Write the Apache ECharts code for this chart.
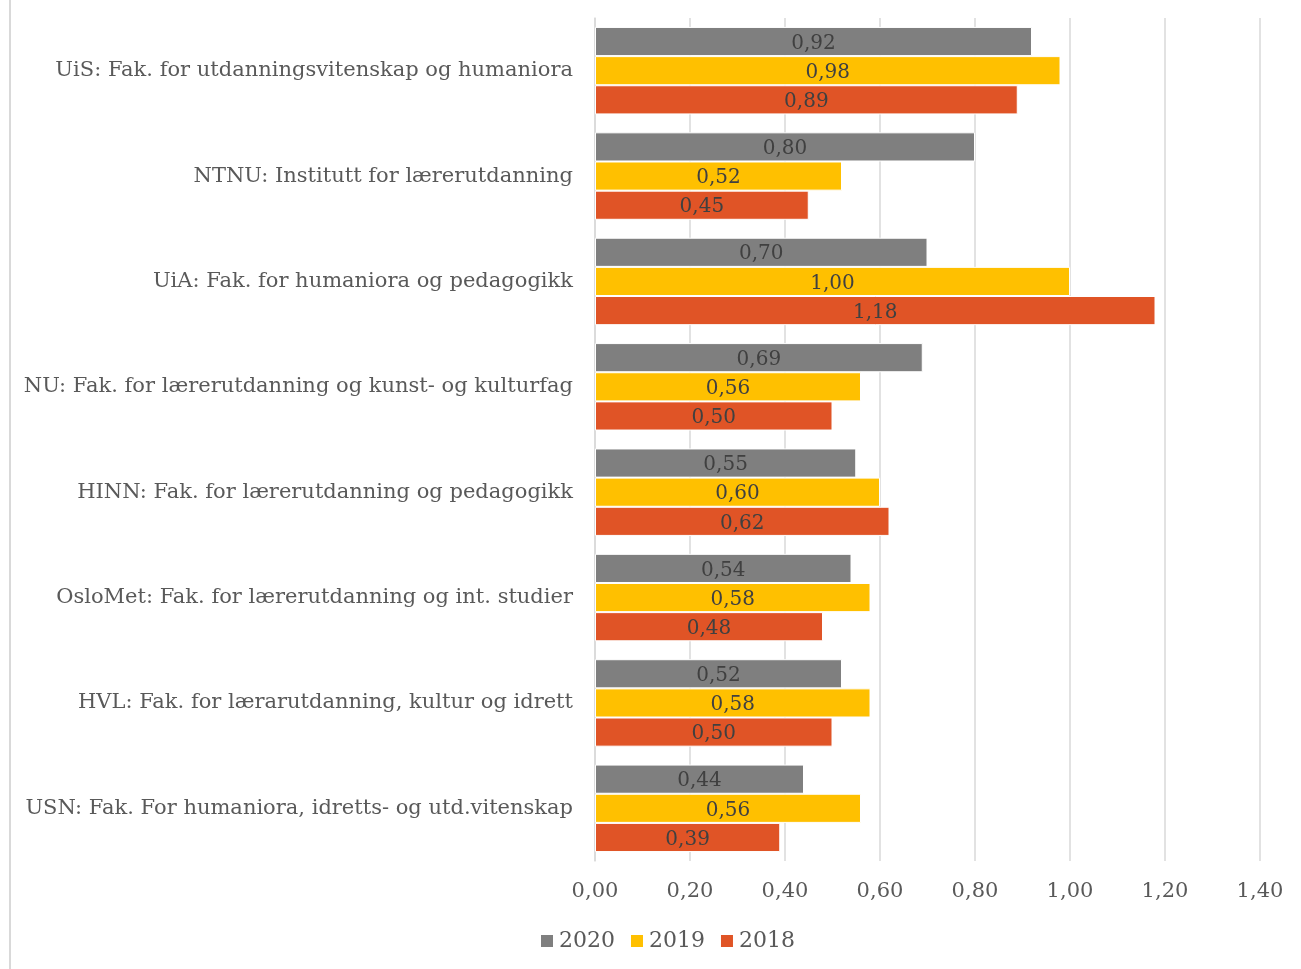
<!DOCTYPE html>
<html><head><meta charset="utf-8">
<script src="https://cdn.jsdelivr.net/npm/echarts@6/dist/echarts.min.js"></script>
<style>html,body{margin:0;padding:0;background:#fff}#c{width:1301px;height:969px}</style>
</head><body><div id="c"></div>
<script>
const categories = [
  "UiS: Fak. for utdanningsvitenskap og humaniora",
  "NTNU: Institutt for lærerutdanning",
  "UiA: Fak. for humaniora og pedagogikk",
  "NU: Fak. for lærerutdanning og kunst- og kulturfag",
  "HINN: Fak. for lærerutdanning og pedagogikk",
  "OsloMet: Fak. for lærerutdanning og int. studier",
  "HVL: Fak. for lærarutdanning, kultur og idrett",
  "USN: Fak. For humaniora, idretts- og utd.vitenskap"
];
const seriesNames = ["2020", "2019", "2018"];
const values2020 = [0.92, 0.80, 0.70, 0.69, 0.55, 0.54, 0.52, 0.44];
const values2019 = [0.98, 0.52, 1.00, 0.56, 0.60, 0.58, 0.58, 0.56];
const values2018 = [0.89, 0.45, 1.18, 0.50, 0.62, 0.48, 0.50, 0.39];
const colors = ["#7f7f7f", "#ffc000", "#e05426"];

const FONT = "'DejaVu Serif', 'Liberation Serif', serif";
const fmt = v => v.toFixed(2).replace('.', ',');
const chart = echarts.init(document.getElementById('c'));
const data = [values2020, values2019, values2018];
chart.setOption({
  animation: false,
  textStyle: { fontFamily: FONT },
  graphic: [{ type: 'line', shape: { x1: 10, y1: 0, x2: 10, y2: 969 }, style: { stroke: '#d9d9d9', lineWidth: 2 } }],
  legend: {
    data: seriesNames, bottom: 12, left: 534, itemWidth: 14, itemHeight: 14, itemGap: 14,
    icon: 'rect',
    textStyle: { fontFamily: FONT, fontSize: 22, color: '#595959', padding: [0, 0, 0, 0] }
  },
  grid: { left: 595, right: 41, top: 18, bottom: 108, containLabel: false },
  xAxis: {
    type: 'value', min: 0, max: 1.4, interval: 0.2,
    axisLine: { show: false }, axisTick: { show: false },
    splitLine: { lineStyle: { color: '#d9d9d9', width: 1.5 } },
    axisLabel: { formatter: fmt, fontFamily: FONT, fontSize: 21, color: '#595959', margin: 20 }
  },
  yAxis: {
    type: 'category', data: categories, inverse: true,
    axisLine: { show: true, lineStyle: { color: '#d9d9d9', width: 1.5 } }, axisTick: { show: false },
    axisLabel: { fontFamily: FONT, fontSize: 21, color: '#595959', margin: 22 }
  },
  series: seriesNames.map((n, i) => ({
    name: n, type: 'bar', data: data[i], barGap: '0%', barCategoryGap: '17%',
    itemStyle: { color: colors[i], borderColor: '#fff', borderWidth: 1 },
    label: { show: true, position: 'inside', offset: [0, 2], formatter: p => fmt(p.value), fontFamily: FONT, fontSize: 20, color: '#404040' }
  }))
});
</script></body></html>
